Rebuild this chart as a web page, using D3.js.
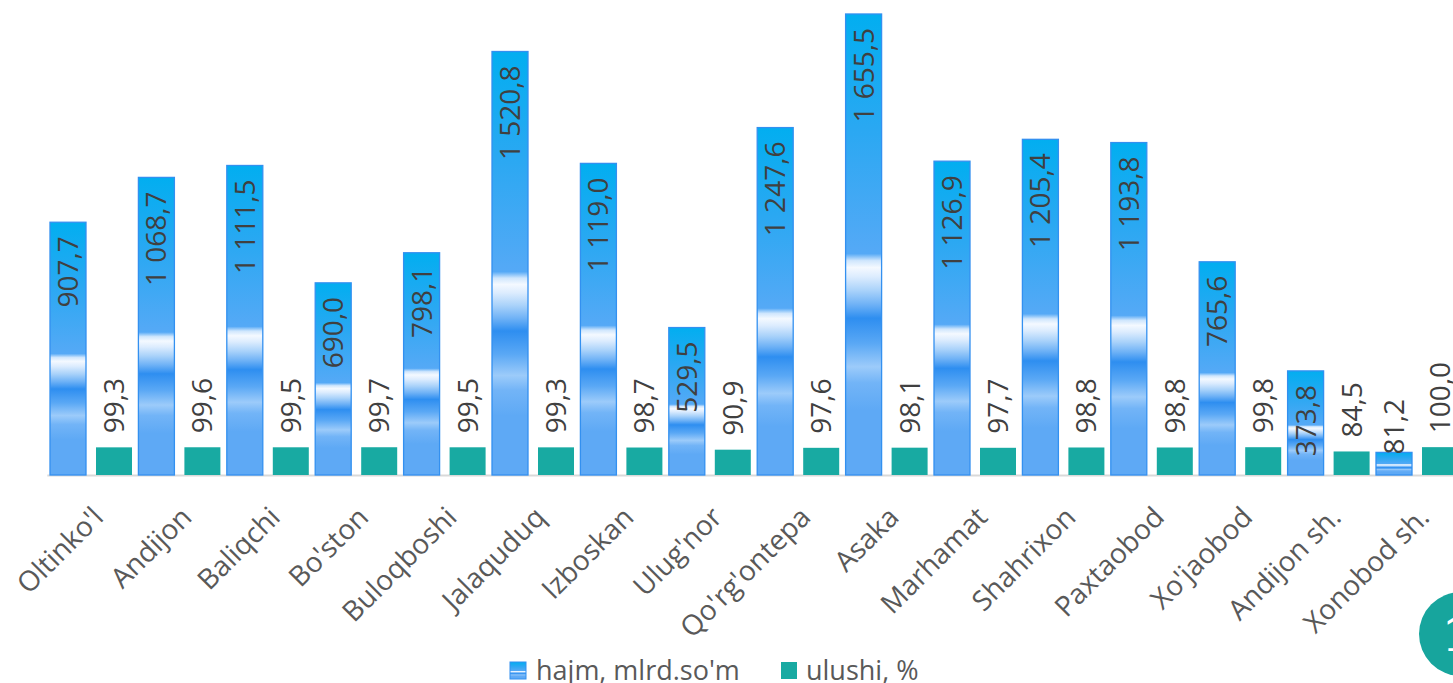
<!DOCTYPE html>
<html>
<head>
<meta charset="utf-8">
<script src="https://cdn.jsdelivr.net/npm/d3@7"></script>
<style>
  html, body { margin: 0; padding: 0; background: #ffffff; overflow: hidden; }
  svg { display: block; font-family: "Open Sans", sans-serif; }
</style>
</head>
<body>
<svg id="chart" width="1453" height="683"></svg>
<script>
const categories = ["Oltinko'l","Andijon","Baliqchi","Bo'ston","Buloqboshi","Jalaquduq","Izboskan","Ulug'nor","Qo'rg'ontepa","Asaka","Marhamat","Shahrixon","Paxtaobod","Xo'jaobod","Andijon sh.","Xonobod sh."];
const hajm = [907.7,1068.7,1111.5,690.0,798.1,1520.8,1119.0,529.5,1247.6,1655.5,1126.9,1205.4,1193.8,765.6,373.8,81.2];
const ulushi = [99.3,99.6,99.5,99.7,99.5,99.3,98.7,90.9,97.6,98.1,97.7,98.8,98.8,99.8,84.5,100.0];
const seriesNames = ["hajm, mlrd.so'm","ulushi, %"];
const pageNumber = "1";

const svg = d3.select("#chart");
const baseY = 475;

const x0 = d3.scaleBand().domain(categories).range([46.8, 1461.2]).paddingInner(0).paddingOuter(0);
const x1 = d3.scaleBand().domain(seriesNames).range([0, x0.bandwidth()]).paddingInner(10/46).paddingOuter(0.0696);
const y = d3.scaleLinear().domain([0, 1700]).range([baseY, 1.6]);

const fmt = d3.formatLocale({decimal: ",", thousands: "\u00a0", grouping: [3], currency: ["", ""]}).format(",.1f");

// gradient
const defs = svg.append("defs");
const grad = defs.append("linearGradient").attr("id", "blueGrad")
  .attr("x1", 0).attr("y1", 0).attr("x2", 0).attr("y2", 1);
[
  [0.00, "#02aef0"], [0.25, "#2aa8f2"], [0.52, "#55a9f6"], [0.535, "#cfe6fd"],
  [0.55, "#f4f9ff"], [0.57, "#dcecfe"], [0.60, "#a9d2fa"], [0.63, "#6fb2f6"],
  [0.66, "#2e8ef0"], [0.715, "#5aa8f5"], [0.765, "#9ccbfa"], [0.80, "#72b4f7"],
  [0.86, "#5ea9f5"], [1.00, "#5ea9f5"]
].forEach(([o, c]) => grad.append("stop").attr("offset", o).attr("stop-color", c));

const tealColor = "#18aaa2";

// axis
const axis = svg.append("g").attr("transform", `translate(0,${baseY})`)
  .call(d3.axisBottom(x0).tickSize(0).tickSizeOuter(0));
axis.select(".domain").attr("stroke", "#d9d9d9").attr("stroke-width", 2);
axis.selectAll(".tick text")
  .attr("y", 0).attr("dy", 0)
  .attr("transform", "translate(14,44) rotate(-45)")
  .attr("text-anchor", "end")
  .attr("fill", "#595959")
  .style("font-family", "'Open Sans', sans-serif")
  .style("font-size", "28px");

const data = categories.map((c, i) => ({cat: c, vals: [hajm[i], ulushi[i]]}));

const groups = svg.append("g").selectAll("g").data(data).join("g")
  .attr("transform", d => `translate(${x0(d.cat)},0)`);

// blue bars
groups.append("rect")
  .attr("x", x1(seriesNames[0]))
  .attr("y", d => y(d.vals[0]))
  .attr("width", x1.bandwidth())
  .attr("height", d => y(0) - y(d.vals[0]))
  .attr("fill", "url(#blueGrad)")
  .attr("stroke", "#3390f0").attr("stroke-width", 1.3);

// teal bars
groups.append("rect")
  .attr("x", x1(seriesNames[1]))
  .attr("y", d => y(d.vals[1]))
  .attr("width", x1.bandwidth())
  .attr("height", d => y(0) - y(d.vals[1]))
  .attr("fill", tealColor);

// labels
groups.each(function(d) {
  const g = d3.select(this);
  const cx = x1(seriesNames[0]) + x1.bandwidth() / 2;
  const top = y(d.vals[0]);
  const t = g.append("text")
    .attr("fill", "#404040").style("font-size", "28px")
    .attr("dy", "0.36em")
    .text(fmt(d.vals[0]));
  const len = t.node().getComputedTextLength();
  const h = y(0) - top;
  if (h > len + 22) {
    t.attr("text-anchor", "end").attr("transform", `translate(${cx},${top + 14}) rotate(-90)`);
  } else {
    t.attr("text-anchor", "start").attr("transform", `translate(${cx},${top + 2}) rotate(-90)`);
  }
  const cx2 = x1(seriesNames[1]) + x1.bandwidth() / 2;
  g.append("text")
    .attr("fill", "#404040").style("font-size", "28px")
    .attr("dy", "0.36em")
    .attr("text-anchor", "start")
    .attr("transform", `translate(${cx2},${y(d.vals[1]) - 14}) rotate(-90)`)
    .text(fmt(d.vals[1]));
});

// legend
const leg = svg.append("g");
const items = [
  {name: seriesNames[0], fill: "url(#blueGrad)", sx: 510, tx: 536},
  {name: seriesNames[1], fill: tealColor, sx: 781, tx: 806}
];
items.forEach(it => {
  leg.append("rect").attr("x", it.sx).attr("y", 662).attr("width", 16).attr("height", 17)
    .attr("fill", it.fill).attr("stroke", it.fill === tealColor ? "none" : "#3390f0").attr("stroke-width", 1);
  leg.append("text").attr("x", it.tx).attr("y", 680).attr("fill", "#595959")
    .style("font-size", "27px").text(it.name);
});

// page number badge
svg.append("circle").attr("cx", 1461).attr("cy", 634).attr("r", 42).attr("fill", "#17a59d");
svg.append("text").attr("x", 1442).attr("y", 651).attr("fill", "#ffffff")
  .style("font-family", "'DejaVu Serif', serif").style("font-size", "46px").style("font-weight", "bold")
  .text(pageNumber);
</script>
</body>
</html>
